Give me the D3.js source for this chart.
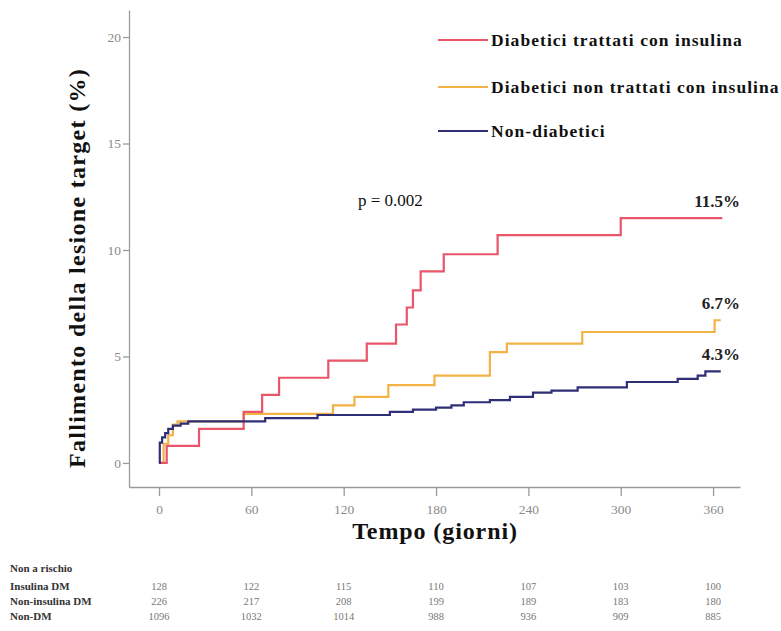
<!DOCTYPE html>
<html>
<head>
<meta charset="utf-8">
<script src="https://cdn.jsdelivr.net/npm/d3@7"></script>
<style>
  body { margin: 0; background: #fff; }
  svg text { font-family: "Liberation Serif", "DejaVu Serif", serif; }
</style>
</head>
<body>
<div id="chart"></div>
<script>
// step data [giorno, %]
const insulinaDM = [[0,0],[5,0.8],[26,1.6],[55,2.4],[67,3.2],[78,4.0],[110,4.8],[135,5.6],[154,6.5],[161,7.3],[165,8.1],[170,9.0],[185,9.8],[220,10.7],[300,11.5],[366,11.5]]
const nonInsulinaDM = [[0,0],[3,0.9],[6,1.3],[9,1.8],[12,1.95],[55,2.3],[113,2.7],[127,3.1],[149,3.65],[179,4.1],[215,5.2],[226,5.6],[275,6.15],[361,6.7],[365,6.7]]
const nonDM = [[0,0],[0.5,0.95],[2,1.2],[4,1.4],[6,1.6],[9,1.75],[14,1.85],[19,1.95],[69,2.1],[103,2.25],[150,2.4],[165,2.5],[180,2.6],[190,2.7],[198,2.85],[215,2.95],[228,3.1],[243,3.3],[255,3.4],[272,3.55],[304,3.8],[337,3.95],[350,4.1],[355,4.3],[365,4.3]]

const seriesNames = ["Diabetici trattati con insulina", "Diabetici non trattati con insulina", "Non-diabetici"]
const seriesColors = ["#e9566a", "#f2b245", "#2f2f78"]
const endLabels = ["11.5%", "6.7%", "4.3%"]

const xTicks = [0, 60, 120, 180, 240, 300, 360]
const yTicks = [0, 5, 10, 15, 20]

const riskRows = ["Insulina DM", "Non-insulina DM", "Non-DM"]
const riskInsulina = [128, 122, 115, 110, 107, 103, 100]
const riskNonInsulina = [226, 217, 208, 199, 189, 183, 180]
const riskNonDM = [1096, 1032, 1014, 988, 936, 909, 885]

const width = 781, height = 631

const svg = d3.select("#chart").append("svg")
    .attr("width", width)
    .attr("height", height)

const x = d3.scaleLinear().domain([-19.5, 377.5]).range([129, 740])
const y = d3.scaleLinear().domain([-1.13, 21.27]).range([487, 10])

// axes
const xAxis = svg.append("g")
    .attr("transform", "translate(0,487)")
    .call(d3.axisBottom(x).tickValues(xTicks).tickSize(9).tickSizeOuter(0))
const yAxis = svg.append("g")
    .attr("transform", "translate(129,0)")
    .call(d3.axisLeft(y).tickValues(yTicks).tickSize(6).tickSizeOuter(0))

svg.selectAll(".domain, .tick line").attr("stroke", "#9a9a9a").attr("stroke-width", 1.3)
xAxis.selectAll("text").attr("font-family", "Liberation Serif").attr("font-size", 13.5).attr("fill", "#8a8a8a").attr("dy", "1.1em")
yAxis.selectAll("text").attr("font-family", "Liberation Serif").attr("font-size", 13.5).attr("fill", "#8a8a8a").attr("dx", "1px")

// curves (blue drawn last, sits on top)
const line = d3.line()
    .x(d => x(d[0]))
    .y(d => y(d[1]))
    .curve(d3.curveStepAfter)

const allSeries = [insulinaDM, nonInsulinaDM, nonDM]
const drawOrder = [1, 0, 2]
svg.append("g").selectAll("path")
    .data(drawOrder)
    .join("path")
    .attr("d", i => line(allSeries[i]))
    .attr("fill", "none")
    .attr("stroke", i => seriesColors[i])
    .attr("stroke-width", 2.2)

// legend
const legendY = [40, 87, 131]
const legend = svg.append("g")
seriesNames.forEach((name, i) => {
    legend.append("line")
        .attr("x1", 438).attr("x2", 488)
        .attr("y1", legendY[i]).attr("y2", legendY[i])
        .attr("stroke", seriesColors[i]).attr("stroke-width", 2)
    legend.append("text")
        .attr("x", 491).attr("y", legendY[i] + 6)
        .attr("font-size", 17.5)
        .attr("font-weight", "bold")
        .attr("letter-spacing", 1.05)
        .attr("fill", "#111")
        .text(name)
})

// annotations
svg.append("text")
    .attr("x", 358).attr("y", 206)
    .attr("font-size", 17)
    .attr("fill", "#111")
    .text("p = 0.002")

const endY = [11.5, 6.7, 4.3]
endLabels.forEach((t, i) => {
    svg.append("text")
        .attr("x", 740)
        .attr("y", y(endY[i]) - 11)
        .attr("text-anchor", "end")
        .attr("font-size", 17)
        .attr("font-weight", "bold")
        .attr("fill", "#222")
        .text(t)
})

// axis titles
svg.append("text")
    .attr("transform", "translate(85,268) rotate(-90)")
    .attr("text-anchor", "middle")
    .attr("font-size", 24)
    .attr("font-weight", "bold")
    .attr("letter-spacing", 1.3)
    .attr("fill", "#111")
    .text("Fallimento della lesione target (%)")

svg.append("text")
    .attr("x", 435).attr("y", 539)
    .attr("text-anchor", "middle")
    .attr("font-size", 24)
    .attr("font-weight", "bold")
    .attr("letter-spacing", 0.9)
    .attr("fill", "#111")
    .text("Tempo (giorni)")

// risk table
const table = svg.append("g")
table.append("text")
    .attr("x", 10).attr("y", 572)
    .attr("font-size", 11).attr("font-weight", "bold").attr("fill", "#333")
    .text("Non a rischio")

const riskData = [riskInsulina, riskNonInsulina, riskNonDM]
const rowY = [590, 605, 620]
riskRows.forEach((r, i) => {
    table.append("text")
        .attr("x", 10).attr("y", rowY[i])
        .attr("font-size", 11).attr("font-weight", "bold").attr("fill", "#333")
        .text(r)
    table.selectAll(".n" + i)
        .data(riskData[i])
        .join("text")
        .attr("x", (d, j) => x(xTicks[j]))
        .attr("y", rowY[i])
        .attr("text-anchor", "middle")
        .attr("font-size", 10.5)
        .attr("fill", "#777")
        .text(d => d)
})
</script>
</body>
</html>
